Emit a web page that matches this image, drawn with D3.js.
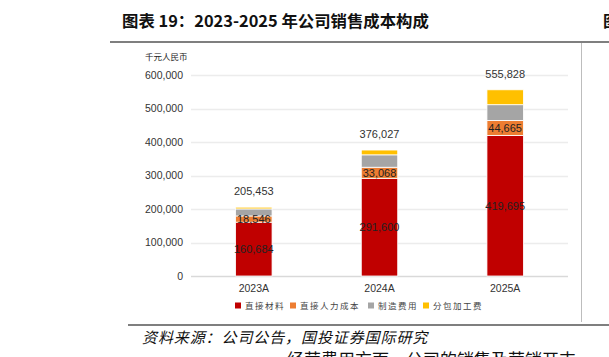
<!DOCTYPE html>
<html lang="zh">
<meta charset="utf-8">
<head>
    <script src="https://d3js.org/d3.v7.min.js"></script>
    <style>
        body { margin: 0; background: #fff; overflow: hidden; }
        svg { display: block; }
    </style>
</head>
<body>
<div id="chart"></div>
<script>
// data (千元人民币)
const years = ["2023A", "2024A", "2025A"];
const seriesNames = ["直接材料", "直接人力成本", "制造费用", "分包加工费"];
const material = [160684, 291600, 419695];
const labour = [18546, 33068, 44665];
const manufacturing = [21000, 37000, 47000];   // estimated
const subcontract = [5223, 14359, 44468];      // estimated
const totals = [205453, 376027, 555828];
const yTicks = [0, 100000, 200000, 300000, 400000, 500000, 600000];
const colors = ["#C00000", "#ED7D31", "#A5A5A5", "#FFC000"];

const width = 609, height = 357;
const svg = d3.select("#chart").append("svg")
    .attr("width", width)
    .attr("height", height);

const cjk = "'Noto Sans CJK SC', sans-serif";
const latin = "Arial, 'Liberation Sans', sans-serif";

// title and frame lines
svg.append("text")
    .attr("x", 122).attr("y", 27)
    .attr("font-family", cjk).attr("font-weight", "bold")
    .attr("font-size", 16.4).attr("fill", "#111")
    .text("图表 19：2023-2025 年公司销售成本构成");
// start of the next column's title, cut by the page edge
svg.append("text")
    .attr("x", 603).attr("y", 27)
    .attr("font-family", cjk).attr("font-weight", "bold")
    .attr("font-size", 16.4).attr("fill", "#111")
    .text("图");
svg.append("line").attr("x1", 110).attr("x2", width).attr("y1", 42).attr("y2", 42)
    .attr("stroke", "#7f7f7f").attr("stroke-width", 2);
svg.append("line").attr("x1", 581.5).attr("x2", 581.5).attr("y1", 43).attr("y2", 322)
    .attr("stroke", "#bdbdbd").attr("stroke-width", 1);
svg.append("line").attr("x1", 128).attr("x2", width).attr("y1", 325).attr("y2", 325)
    .attr("stroke", "#7f7f7f").attr("stroke-width", 2);

svg.append("text")
    .attr("x", 142).attr("y", 343)
    .attr("font-family", cjk).attr("font-style", "italic")
    .attr("font-size", 15).attr("letter-spacing", 0.9).attr("fill", "#111")
    .text("资料来源：公司公告，国投证券国际研究");
// first line of the following paragraph, cut by the page bottom
svg.append("text")
    .attr("x", 287).attr("y", 366)
    .attr("font-family", cjk)
    .attr("font-size", 17).attr("fill", "#111")
    .text("经营费用方面，公司的销售及营销开支");

svg.append("text")
    .attr("x", 145).attr("y", 60)
    .attr("font-family", cjk)
    .attr("font-size", 8.5).attr("fill", "#222")
    .text("千元人民币");

// scales
const x = d3.scaleBand().domain(years).range([191, 568]).paddingInner(0.71).paddingOuter(0.355);
const y = d3.scaleLinear().domain([0, 600000]).range([276, 75]);

// grid
svg.append("g")
    .selectAll("line")
    .data(yTicks)
    .join("line")
    .attr("x1", 191).attr("x2", 568)
    .attr("y1", d => Math.round(y(d)) + 0.5).attr("y2", d => Math.round(y(d)) + 0.5)
    .attr("stroke", d => d === 0 ? "#d9d9d9" : "#ececec")
    .attr("stroke-width", 1.5);

// y axis labels
const yAxis = d3.axisLeft(y).tickValues(yTicks).tickFormat(d3.format(",")).tickSize(0).tickPadding(8);
const yg = svg.append("g").attr("transform", "translate(191,0)").call(yAxis);
yg.select(".domain").remove();
yg.selectAll("text").attr("font-family", latin).attr("font-size", 10.5).attr("fill", "#333");

// x axis labels
const xAxis = d3.axisBottom(x).tickSize(0).tickPadding(9);
const xg = svg.append("g").attr("transform", "translate(0,276)").call(xAxis);
xg.select(".domain").remove();
xg.selectAll("text").attr("font-family", latin).attr("font-size", 10.5).attr("fill", "#333");

// stacked bars
const rows = years.map((yr, i) => ({
    year: yr, s0: material[i], s1: labour[i], s2: manufacturing[i], s3: subcontract[i]
}));
const stacked = d3.stack().keys(["s0", "s1", "s2", "s3"])(rows);

svg.append("g")
    .selectAll("g")
    .data(stacked)
    .join("g")
    .attr("fill", (d, i) => colors[i])
    .selectAll("rect")
    .data(d => d)
    .join("rect")
    .attr("x", d => x(d.data.year))
    .attr("width", x.bandwidth())
    .attr("y", d => y(d[1]))
    .attr("height", d => y(d[0]) - y(d[1]))
    .attr("stroke", "#fff")
    .attr("stroke-width", 0.8);

// segment labels for material and labour
[0, 1].forEach(k => {
    svg.append("g")
        .selectAll("text")
        .data(stacked[k])
        .join("text")
        .attr("x", d => x(d.data.year) + x.bandwidth() / 2)
        .attr("y", d => (y(d[0]) + y(d[1])) / 2)
        .attr("dy", "0.36em")
        .attr("text-anchor", "middle")
        .attr("font-family", latin).attr("font-size", 11).attr("fill", "#222")
        .text(d => d3.format(",")(d[1] - d[0]));
});

// totals
svg.append("g")
    .selectAll("text")
    .data(totals)
    .join("text")
    .attr("x", (d, i) => x(years[i]) + x.bandwidth() / 2)
    .attr("y", d => y(d) - 16)
    .attr("dy", "0.36em")
    .attr("text-anchor", "middle")
    .attr("font-family", latin).attr("font-size", 11).attr("fill", "#333")
    .text(d => d3.format(",")(d));

// legend
const legendX = [235, 290, 368, 423];
const lg = svg.append("g").selectAll("g")
    .data(seriesNames)
    .join("g")
    .attr("transform", (d, i) => `translate(${legendX[i]},306)`);
lg.append("rect").attr("x", 0).attr("y", -3.5).attr("width", 6).attr("height", 6)
    .attr("fill", (d, i) => colors[i]);
lg.append("text").attr("x", 10).attr("y", 0).attr("dy", "0.36em")
    .attr("font-family", cjk).attr("font-size", 8.5).attr("fill", "#444")
    .attr("letter-spacing", 1.5)
    .text(d => d);
</script>
</body>
</html>
